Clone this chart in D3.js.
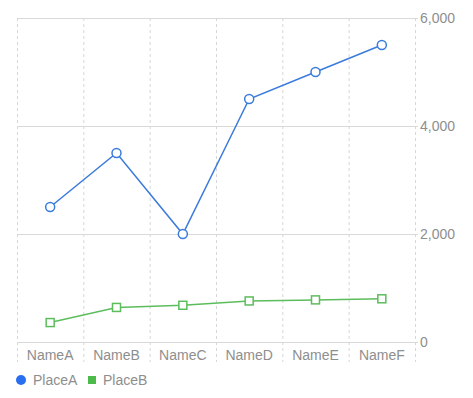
<!DOCTYPE html>
<html><head><meta charset="utf-8">
<script src="https://cdn.jsdelivr.net/npm/d3@7"></script>
<style>body{margin:0;background:#fff}svg{display:block;font-family:"Liberation Sans",Arial,sans-serif}</style>
</head><body><svg id="c" width="473" height="398"></svg>
<script>
const categories = ["NameA","NameB","NameC","NameD","NameE","NameF"];
const placeA = [2500,3500,2000,4500,5000,5500];
const placeB = [360,640,680,760,780,800];
const yTicks = [0,2000,4000,6000];
const seriesNames = ["PlaceA","PlaceB"];
const colors = ["#3a7bdc","#5cbd5c"];
const legendColors = ["#2a6ef0","#4cbb4c"];

const svg = d3.select("#c");
const L=17, R=415, T=18, B=342;
const x = d3.scaleBand().domain(categories).range([L,R]).padding(0);
const y = d3.scaleLinear().domain([0,6000]).range([B,T]);

// vertical dashed grid
const xs = categories.map(c=>x(c)).concat([R]);
svg.append("g").selectAll("line").data(xs).join("line")
  .attr("x1",d=>d+0.5).attr("x2",d=>d+0.5).attr("y1",T).attr("y2",362)
  .attr("stroke","#d6d6d6").attr("stroke-dasharray","3,3");
// horizontal grid
svg.append("g").selectAll("line").data(yTicks).join("line")
  .attr("x1",L).attr("x2",R+3).attr("y1",d=>Math.round(y(d))+0.5).attr("y2",d=>Math.round(y(d))+0.5)
  .attr("stroke","#d9d9d9").attr("stroke-width",1);
// y labels
svg.append("g").selectAll("text").data(yTicks).join("text")
  .attr("x",420).attr("y",d=>y(d)).attr("dy","0.35em")
  .attr("font-size",14).attr("fill","#8e8e8e").text(d3.format(","));
// x labels
svg.append("g").selectAll("text").data(categories).join("text")
  .attr("x",d=>x(d)+x.bandwidth()/2).attr("y",355).attr("dy","0.35em")
  .attr("text-anchor","middle").attr("font-size",14).attr("fill","#8e8e8e").text(d=>d);

const cx = i=>x(categories[i])+x.bandwidth()/2;
const line = d3.line().x((d,i)=>cx(i)).y(d=>y(d));
[placeA,placeB].forEach((s,k)=>{
  svg.append("path").datum(s).attr("d",line).attr("fill","none")
    .attr("stroke",colors[k]).attr("stroke-width",1.5);
});
svg.append("g").selectAll("circle").data(placeA).join("circle")
  .attr("cx",(d,i)=>cx(i)).attr("cy",d=>y(d)).attr("r",4.5)
  .attr("fill","#fff").attr("stroke",colors[0]).attr("stroke-width",1.5);
svg.append("g").selectAll("rect").data(placeB).join("rect")
  .attr("x",(d,i)=>cx(i)-4).attr("y",d=>y(d)-4).attr("width",8).attr("height",8)
  .attr("fill","#fff").attr("stroke",colors[1]).attr("stroke-width",1.5);

// legend
const lg = svg.append("g");
lg.append("circle").attr("cx",21).attr("cy",380).attr("r",5).attr("fill",legendColors[0]);
lg.append("text").attr("x",33).attr("y",380).attr("dy","0.35em").attr("font-size",14).attr("fill","#8e8e8e").text(seriesNames[0]);
lg.append("rect").attr("x",88).attr("y",376).attr("width",8).attr("height",8).attr("fill",legendColors[1]);
lg.append("text").attr("x",103).attr("y",380).attr("dy","0.35em").attr("font-size",14).attr("fill","#8e8e8e").text(seriesNames[1]);
</script></body></html>
